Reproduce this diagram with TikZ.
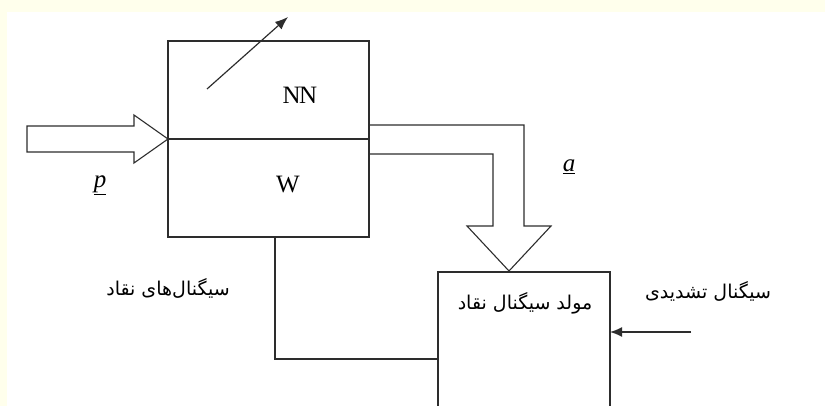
\documentclass[tikz,border=0pt]{standalone}
\usepackage{fontspec}
\setmainfont{Liberation Serif}
\newfontfamily\arabicfont[Script=Arabic]{DejaVu Sans}
\TeXXeTstate=1
\usetikzlibrary{arrows.meta,calc}
\definecolor{bgyellow}{RGB}{255,255,236}
\definecolor{linegray}{RGB}{45,45,45}
\tikzset{
  box/.style={draw=linegray, line width=1.3pt, fill=none, inner sep=0pt, outer sep=0pt},
  hollow/.style={draw=linegray, line width=1.1pt, line join=miter},
  wire/.style={draw=linegray, line width=1.3pt},
  lbl/.style={inner sep=0pt, font=\fontsize{25}{27}\selectfont},
  ar/.style={inner sep=0pt, font=\arabicfont\fontsize{19}{22}\selectfont},
  sym/.style={inner sep=0pt, font=\fontsize{25}{27}\selectfont}
}
\begin{document}
\begin{tikzpicture}[x=1pt,y=-1pt]
\fill[bgyellow] (0,0) rectangle (825,406);
\fill[white] (7,12) rectangle (825,406);
\useasboundingbox (0,0) rectangle (825,406);
\clip (0,0) rectangle (825,406);
% top box
\node[box, minimum width=201pt, minimum height=196pt] (nn) at (268.5,139) {};
\draw[line width=2.4pt, linegray] (nn.west) -- (nn.east);
\node[lbl] (nnt) at (300,95) {N\kern-1.5pt N};
\node[lbl] (wt) at (288,185) {W};
% adjustable arrow
\coordinate (ws) at (207,89);
\coordinate (we) at (288,17);
\draw[wire, line width=1.2pt, -{Latex[length=13pt,width=10pt]}] (ws) -- (we);
% input hollow arrow
\draw[hollow] (nn.west) -- ++(-34,24) -- ++(0,-11) -- ++(-107,0) -- ++(0,-26) -- ++(107,0) -- ++(0,-11) -- cycle;
\node[sym] (p) at (100,185) {$\underline{\mathit{p}}$};
% bottom box
\node[box, minimum width=172pt, minimum height=180pt] (gen) at (524,362) {};
\node[ar] (gent) at (525,303) {\beginR مولد سیگنال نقاد\endR};
% output hollow arrow
\coordinate (tip) at (509,271);
\draw[hollow] ($(nn.east)+(0,-14)$) -- (524,125) -- (524,226) -- (551,226) -- (tip) -- (467,226) -- (493,226) -- (493,154) -- ($(nn.east)+(0,15)$);
\node[sym] (a) at (569,167) {$\underline{\mathit{a}}$};
% feedback line
\coordinate (fb) at (275,359);
\draw[wire] (nn.south -| fb) -- (fb) -- (fb -| gen.west);
% reinforcement input
\coordinate (rin) at (691,332);
\draw[wire, line width=1.5pt, -{Latex[length=12pt,width=10pt]}] (rin) -- (rin -| gen.east);
\node[ar] (rt) at (708,291) {\beginR سیگنال تشدیدی\endR};
\node[ar] (lt) at (168,288) {\beginR سیگنال‌های نقاد\endR};
\end{tikzpicture}
\end{document}
